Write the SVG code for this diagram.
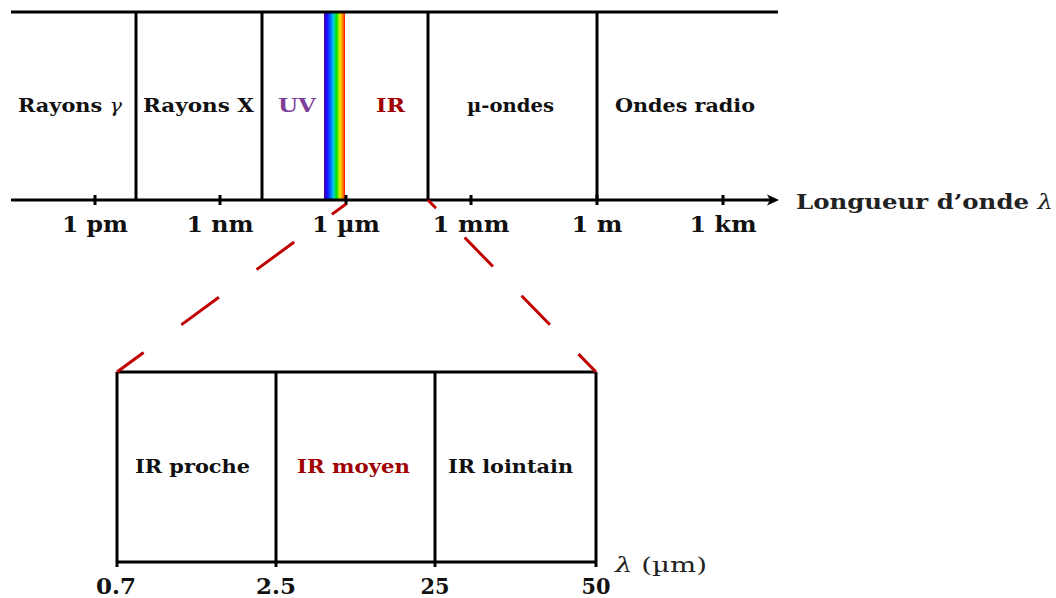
<svg xmlns="http://www.w3.org/2000/svg" width="1056" height="598" viewBox="0 0 1056 598">
<style>
.ln{stroke:#000;stroke-width:3;fill:none}
.tk{stroke:#000;stroke-width:3}
.t{font-family:"DejaVu Serif","Liberation Serif",serif;font-weight:bold;fill:#111}
.lab{font-size:18px}
.tick{font-size:22px;text-anchor:middle}
.red{stroke:#c00000;stroke-width:3;fill:none}
</style>
<defs>
<linearGradient id="spec" x1="0" y1="0" x2="1" y2="0">
<stop offset="0" stop-color="#4b0090"/>
<stop offset="0.12" stop-color="#2000ff"/>
<stop offset="0.3" stop-color="#0060ff"/>
<stop offset="0.45" stop-color="#00d0e0"/>
<stop offset="0.6" stop-color="#00e000"/>
<stop offset="0.75" stop-color="#e0f000"/>
<stop offset="0.88" stop-color="#ff9000"/>
<stop offset="1" stop-color="#ff1000"/>
</linearGradient>
</defs>
<rect width="1056" height="598" fill="#fff"/>

<g id="spectrum-axis">
<rect x="324" y="12" width="21" height="188" fill="url(#spec)"/>
<line class="ln" x1="11" y1="12" x2="778" y2="12"/>
<line class="ln" x1="11" y1="200" x2="771" y2="200"/>
<path d="M779,200 L767,194.5 L770,200 L767,205.5 Z" fill="#000"/>
<line class="tk" x1="95" y1="195" x2="95" y2="205"/>
<line class="tk" x1="220" y1="195" x2="220" y2="205"/>
<line class="tk" x1="346" y1="195" x2="346" y2="205"/>
<line class="tk" x1="471" y1="195" x2="471" y2="205"/>
<line class="tk" x1="597" y1="195" x2="597" y2="205"/>
<line class="tk" x1="723" y1="195" x2="723" y2="205"/>
<line class="ln" x1="136" y1="12" x2="136" y2="200"/>
<line class="ln" x1="262" y1="12" x2="262" y2="200"/>
<line class="ln" x1="428" y1="12" x2="428" y2="200"/>
<line class="ln" x1="597" y1="12" x2="597" y2="200"/>
<text class="t" x="796" y="209" font-size="21" style="fill:#222" textLength="257" lengthAdjust="spacingAndGlyphs">Longueur d’onde <tspan font-style="italic" font-weight="normal">λ</tspan></text>
<text class="t tick" x="95" y="232" textLength="66" lengthAdjust="spacingAndGlyphs">1 pm</text>
<text class="t tick" x="220" y="232" textLength="67" lengthAdjust="spacingAndGlyphs">1 nm</text>
<text class="t tick" x="346" y="232" textLength="68" lengthAdjust="spacingAndGlyphs">1 µm</text>
<text class="t tick" x="471" y="232" textLength="77" lengthAdjust="spacingAndGlyphs">1 mm</text>
<text class="t tick" x="597" y="232" textLength="51" lengthAdjust="spacingAndGlyphs">1 m</text>
<text class="t tick" x="723" y="232" textLength="67" lengthAdjust="spacingAndGlyphs">1 km</text>
</g>

<g id="gamma"><text class="t lab" x="18" y="112" textLength="104" lengthAdjust="spacingAndGlyphs">Rayons <tspan font-style="italic" font-weight="normal">γ</tspan></text></g>
<g id="xray"><text class="t lab" x="143" y="112" textLength="111" lengthAdjust="spacingAndGlyphs">Rayons X</text></g>
<g id="uv"><text class="t lab" x="278" y="112" textLength="38" lengthAdjust="spacingAndGlyphs" style="fill:#7f3f98">UV</text></g>
<g id="ir"><text class="t lab" x="376" y="112" textLength="29" lengthAdjust="spacingAndGlyphs" style="fill:#a00000">IR</text></g>
<g id="micro"><text class="t lab" x="467" y="112" textLength="87" lengthAdjust="spacingAndGlyphs">µ-ondes</text></g>
<g id="radio"><text class="t lab" x="615" y="112" textLength="140" lengthAdjust="spacingAndGlyphs">Ondes radio</text></g>

<g id="ir-zoom">
<line class="ln" x1="117" y1="372" x2="596" y2="372"/>
<line class="ln" x1="117" y1="562" x2="596" y2="562"/>
<line class="ln" x1="117" y1="372" x2="117" y2="567"/>
<line class="ln" x1="276" y1="372" x2="276" y2="567"/>
<line class="ln" x1="435" y1="372" x2="435" y2="567"/>
<line class="ln" x1="596" y1="372" x2="596" y2="567"/>
<text class="t tick" x="116" y="594" textLength="40" lengthAdjust="spacingAndGlyphs">0.7</text>
<text class="t tick" x="276" y="594" textLength="40" lengthAdjust="spacingAndGlyphs">2.5</text>
<text class="t tick" x="435" y="594" textLength="29" lengthAdjust="spacingAndGlyphs">25</text>
<text class="t tick" x="596" y="594" textLength="29" lengthAdjust="spacingAndGlyphs">50</text>
<text x="615" y="572" font-family="DejaVu Serif, Liberation Serif, serif" font-size="21" fill="#222" textLength="92" lengthAdjust="spacingAndGlyphs"><tspan font-style="italic">λ</tspan> (µm)</text>
</g>
<g id="ir-proche"><text class="t lab" x="135" y="473" textLength="115" lengthAdjust="spacingAndGlyphs">IR proche</text></g>
<g id="ir-moyen"><text class="t lab" x="297" y="473" textLength="113" lengthAdjust="spacingAndGlyphs" style="fill:#a00000">IR moyen</text></g>
<g id="ir-lointain"><text class="t lab" x="448" y="473" textLength="125" lengthAdjust="spacingAndGlyphs">IR lointain</text></g>

<g id="connectors">
<line class="red" x1="117" y1="372" x2="346" y2="204" stroke-dasharray="46.7 46.7" stroke-dashoffset="13.7"/>
<line class="red" x1="596" y1="372" x2="428" y2="200" stroke-dasharray="40.5 41" stroke-dashoffset="15.5"/>
</g>
</svg>
